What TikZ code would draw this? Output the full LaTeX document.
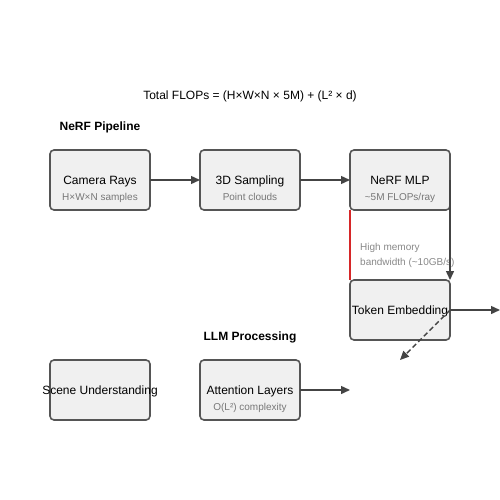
\documentclass[tikz,border=0pt]{standalone}
\usepackage{fontspec}
\setmainfont{Liberation Sans}
\usetikzlibrary{arrows.meta}
\definecolor{boxfill}{HTML}{F0F0F0}
\definecolor{boxline}{HTML}{555555}
\definecolor{arrowc}{HTML}{444444}
\definecolor{subc}{HTML}{777777}
\definecolor{memc}{HTML}{888888}
\definecolor{redc}{HTML}{D62728}
\tikzset{
  stagebox/.style={draw=boxline, fill=boxfill, line width=1.6pt, rounded corners=4pt,
    minimum width=100pt, minimum height=60pt, inner sep=0pt, outer sep=0pt},
  mainlbl/.style={anchor=base, inner sep=0pt, font=\fontsize{12}{14}\selectfont, text=black},
  sublbl/.style={anchor=base, inner sep=0pt, font=\fontsize{10}{12}\selectfont, text=subc},
  memlbl/.style={anchor=base west, inner sep=0pt, font=\fontsize{10}{12}\selectfont, text=memc},
  headlbl/.style={anchor=base, inner sep=0pt, font=\bfseries\fontsize{12}{14}\selectfont, text=black},
  flow/.style={draw=arrowc, line width=1.4pt, -{Triangle[length=9pt,width=8pt]}},
  dflow/.style={flow, dashed, dash pattern=on 5pt off 3pt}
}
\begin{document}
\begin{tikzpicture}[x=1pt,y=-1pt]
\useasboundingbox (0,0) rectangle (500,500);
% titles
\node[mainlbl] (title) at (250,100) {Total FLOPs = (H×W×N × 5M) + (L² × d)};
\node[headlbl] (nerfhead) at (100,130) {NeRF Pipeline};
\node[headlbl] (llmhead) at (250,340) {LLM Processing};
% boxes
\node[stagebox] (cam) at (100,180) {};
\node[stagebox] (samp) at (250,180) {};
\node[stagebox] (mlp) at (400,180) {};
\node[stagebox] (tok) at (400,310) {};
\node[stagebox] (scene) at (100,390) {};
\node[stagebox] (attn) at (250,390) {};
% labels
\node[mainlbl] (camt) at (100,184) {Camera Rays};
\node[sublbl] (cams) at (100,200) {H×W×N samples};
\node[mainlbl] (sampt) at (250,184) {3D Sampling};
\node[sublbl] (samps) at (250,200) {Point clouds};
\node[mainlbl] (mlpt) at (400,184) {NeRF MLP};
\node[sublbl] (mlps) at (400,200) {\textasciitilde 5M FLOPs/ray};
\node[mainlbl] (tokt) at (400,314) {Token Embedding};
\node[mainlbl] (scenet) at (100,394) {Scene Understanding};
\node[mainlbl] (attnt) at (250,394) {Attention Layers};
\node[sublbl] (attns) at (250,410) {O(L²) complexity};
\node[memlbl] (mem1) at (360,250) {High memory};
\node[memlbl] (mem2) at (360,265) {bandwidth (\textasciitilde 10GB/s)};
% free ends
\coordinate (tokout) at (500,310);
\coordinate (dashend) at (400,360);
\coordinate (attnout) at (350,390);
% connectors
\draw[flow] (cam.east) -- (samp.west);
\draw[flow] (samp.east) -- (mlp.west);
\draw[flow] (mlp.east) -- (tok.north east);
\draw[draw=redc, line width=1.6pt] (mlp.south west) -- (tok.north west);
\draw[flow] (tok.east) -- (tokout);
\draw[dflow] (tok.east) -- (dashend);
\draw[flow] (attn.east) -- (attnout);
\end{tikzpicture}
\end{document}
